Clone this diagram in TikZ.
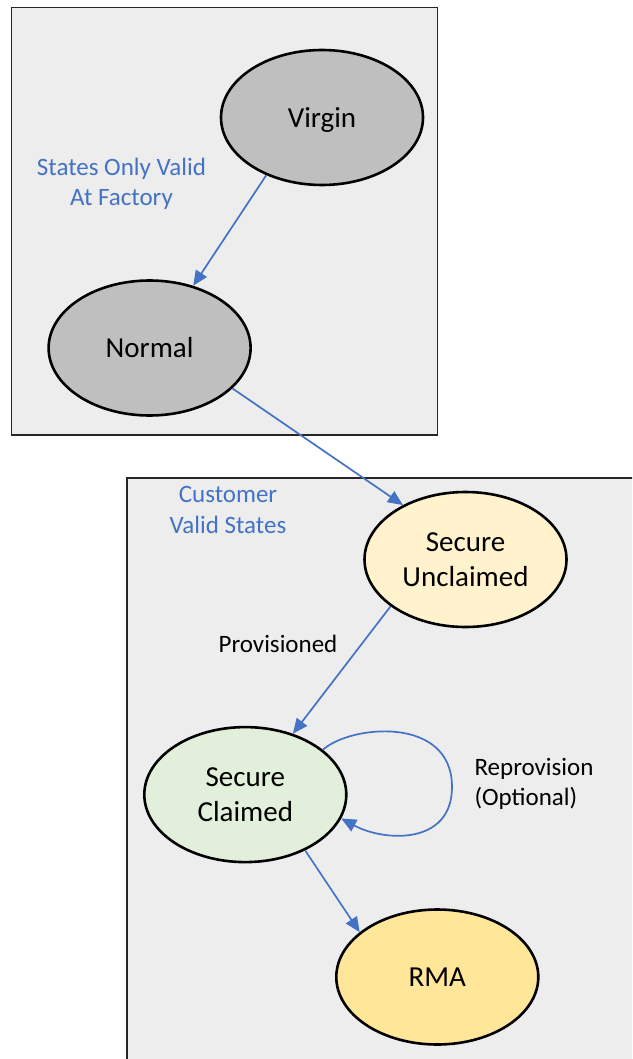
\documentclass[tikz,border=0pt]{standalone}
\usepackage{fontspec}
\setmainfont{Carlito}
\usetikzlibrary{shapes.geometric,arrows.meta}
\definecolor{boxbg}{HTML}{EDEDED}
\definecolor{grayfill}{HTML}{BFBFBF}
\definecolor{sufill}{HTML}{FFF2CC}
\definecolor{scfill}{HTML}{E2EFDA}
\definecolor{rmafill}{HTML}{FFE699}
\definecolor{lineblue}{HTML}{4472C4}
\tikzset{
  state/.style={ellipse, draw=black, line width=2.6pt, minimum width=202pt, minimum height=135pt, inner sep=0pt, align=center, font=\fontsize{29}{35}\selectfont},
  grouplabel/.style={text=lineblue, align=center, font=\fontsize{25}{30.5}\selectfont},
  edgelabel/.style={text=black, font=\fontsize{25}{30.5}\selectfont},
  conn/.style={draw=lineblue, line width=1.7pt, -{Triangle[length=15pt,width=13pt]}},
  group/.style={draw=black!85, line width=1.3pt, fill=boxbg}
}
\begin{document}
\begin{tikzpicture}[x=1pt,y=-1pt]
\useasboundingbox (0,0) rectangle (632,1059);
\clip (0,0) rectangle (632,1059);
\fill[white] (0,0) rectangle (632,1059);
% group boxes
\draw[group] (11.5,7.5) rectangle (437.5,435);
\draw[group] (127,478) rectangle (640,1070);
% labels
\node[grouplabel] (lfac) at (121.5,184) {States Only Valid\\At Factory};
\node[grouplabel] (lcust) at (228,510) {Customer\\Valid States};
\node[edgelabel] (lprov) at (278,644) {Provisioned};
\node[edgelabel, align=left, anchor=west] (lrep) at (471,784) {Reprovision\\(Optional)};
% states
\node[state, fill=grayfill, text depth=0pt] (v) at (322,117.5) {Virgin};
\node[state, fill=grayfill] (n) at (149.6,348) {Normal};
\node[state, fill=sufill] (su) at (465.5,559.5) {Secure\\Unclaimed};
\node[state, fill=scfill] (sc) at (245.3,794.6) {Secure\\Claimed};
\node[state, fill=rmafill] (rma) at (437.3,977) {RMA};
% connectors
\draw[conn] (v.226) -- (n.55);
\draw[conn] (n.334) -- (su.139);
\draw[conn] (su.212) -- (sc.52);
\draw[conn] (sc.30) .. controls (350,725) and (452,715) .. (452,787) .. controls (452,845) and (385,842) .. (sc.346);
\draw[conn] (sc.317) -- (rma.150);
\end{tikzpicture}
\end{document}
